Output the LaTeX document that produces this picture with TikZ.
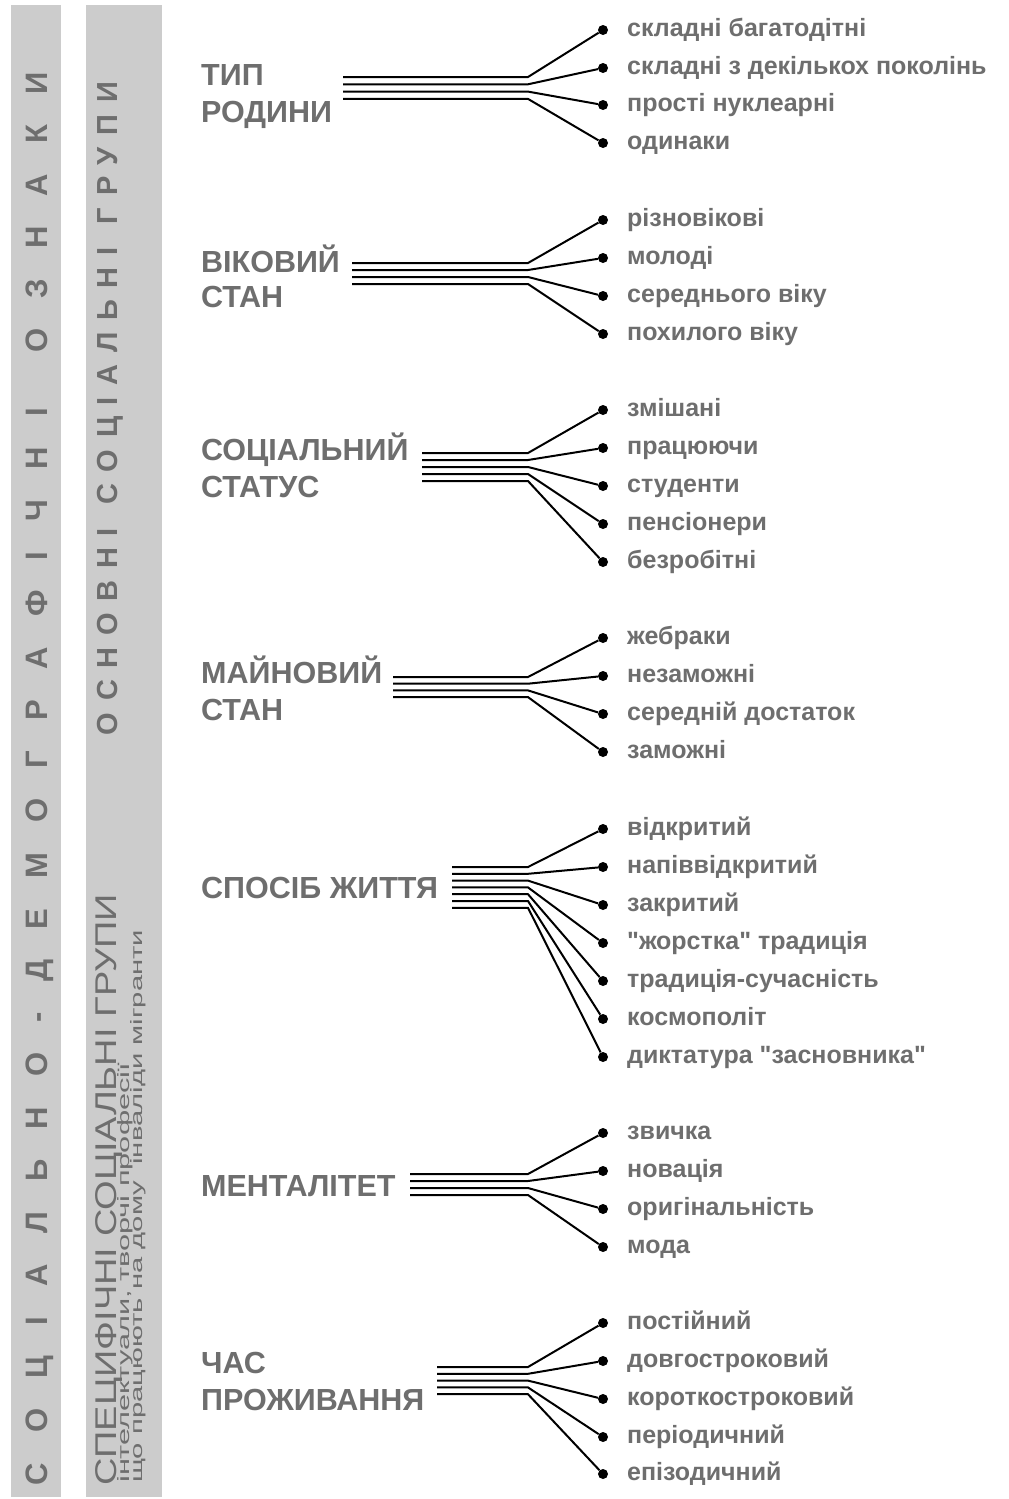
\documentclass[tikz,border=0pt]{standalone}
\usepackage{fontspec}
\setmainfont{Liberation Sans}
\usepackage{graphicx}
\definecolor{txtgray}{HTML}{6E6E6E}
\definecolor{bargray}{HTML}{CCCCCC}
\newcommand\qq{\XeTeXglyph\XeTeXcharglyph"22\relax}
% #1 name, #2 start x of bundle, #3 first line y, #4 line step, #5 list dot-y/text
\newcommand\fanbundle[5]{%
  \foreach \dy/\txt [count=\i] in {#5}{%
    \pgfmathsetmacro\ly{#3+(\i-1)*#4}
    \pgfmathsetmacro\ty{\dy+6.5}
    \coordinate (#1s\i) at (#2,\ly);
    \coordinate (#1b\i) at (528,\ly);
    \node[dot] (#1d\i) at (603,\dy) {};
    \node[item] (#1t\i) at (627,\ty) {\txt};
    \draw[link] (#1s\i) -- (#1b\i) -- (#1d\i);
  }%
}
\begin{document}
\begin{tikzpicture}[x=1pt,y=-1pt,
  head/.style={font=\bfseries\fontsize{30.5}{36}\selectfont, text=txtgray, inner sep=0pt, anchor=base west},
  item/.style={font=\bfseries\fontsize{25}{30}\selectfont, text=txtgray, inner sep=0pt, anchor=base west},
  dot/.style={circle, fill=black, inner sep=0pt, minimum size=10pt},
  link/.style={line width=2pt, black},
  bar/.style={fill=bargray},
  bartext/.style={text=txtgray, inner sep=0pt, rotate=90}]
\useasboundingbox (0,0) rectangle (1009,1499);
\fill[white] (0,0) rectangle (1009,1499);
% side bars
\path[bar] (11,5) rectangle (61,1497);
\path[bar] (86,5) rectangle (162,1497);
\node[bartext, font=\bfseries\fontsize{31}{36}\selectfont, anchor=base] (bar1t) at (47,778.5)
  {\hbox to 1413pt{С\hfil О\hfil Ц\hfil І\hfil А\hfil Л\hfil Ь\hfil Н\hfil О\hfil -\hfil Д\hfil Е\hfil М\hfil О\hfil Г\hfil Р\hfil А\hfil Ф\hfil І\hfil Ч\hfil Н\hfil І\hfil\hskip 25pt О\hfil З\hfil Н\hfil А\hfil К\hfil И}};
\node[bartext, font=\bfseries\fontsize{29}{34}\selectfont, anchor=base] (bar2t) at (117,408.5)
  {\hbox to 653pt{О\hfil С\hfil Н\hfil О\hfil В\hfil Н\hfil І\hfil\hskip 12pt С\hfil О\hfil Ц\hfil І\hfil А\hfil Л\hfil Ь\hfil Н\hfil І\hfil\hskip 12pt Г\hfil Р\hfil У\hfil П\hfil И}};
\node[bartext, font=\fontsize{30}{34}\selectfont, anchor=base west] (bar2b) at (116,1486)
  {\resizebox{592pt}{\height}{СПЕЦИФІЧНІ СОЦІАЛЬНІ ГРУПИ}};
\node[bartext, font=\fontsize{16.5}{18}\selectfont, anchor=base west] (bar2c) at (129,1483)
  {\resizebox{420pt}{\height}{інтелектуали, творчі професії}};
\node[bartext, font=\fontsize{16.5}{18}\selectfont, anchor=base west] (bar2d) at (142,1483)
  {\resizebox{553pt}{\height}{що працюють на дому~~інваліди мігранти}};
% headings
\node[head] (g1a) at (201,85) {ТИП};
\node[head] (g1b) at (201,122) {РОДИНИ};
\node[head] (g2a) at (201,272) {ВІКОВИЙ};
\node[head] (g2b) at (201,307) {СТАН};
\node[head] (g3a) at (201,460) {СОЦІАЛЬНИЙ};
\node[head] (g3b) at (201,497) {СТАТУС};
\node[head] (g4a) at (201,683) {МАЙНОВИЙ};
\node[head] (g4b) at (201,720) {СТАН};
\node[head] (g5a) at (201,898) {СПОСІБ ЖИТТЯ};
\node[head] (g6a) at (201,1196) {МЕНТАЛІТЕТ};
\node[head] (g7a) at (201,1373) {ЧАС};
\node[head] (g7b) at (201,1410) {ПРОЖИВАННЯ};
% bundles
\fanbundle{a}{343}{77}{7.3}{30/складні багатодітні, 68/складні з декількох поколінь, 105/прості нуклеарні, 143/одинаки}
\fanbundle{b}{352}{263}{7}{220/різновікові, 258/молоді, 296/середнього віку, 334/похилого віку}
\fanbundle{c}{422}{453}{7}{410/змішані, 448/працюючи, 486/студенти, 524/пенсіонери, 562/безробітні}
\fanbundle{d}{393}{677}{6.7}{638/жебраки, 676/незаможні, 714/середній достаток, 752/заможні}
\fanbundle{e}{452}{867}{6.8}{829/відкритий, 867/напіввідкритий, 905/закритий, 943/\qq жорстка\qq{} традиція, 981/традиція-сучасність, 1019/космополіт, 1057/диктатура \qq засновника\qq}
\fanbundle{f}{410}{1174}{7}{1133/звичка, 1171/новація, 1209/оригінальність, 1247/мода}
\fanbundle{g}{437}{1367}{6.8}{1323/постійний, 1361/довгостроковий, 1399/короткостроковий, 1437/періодичний, 1474/епізодичний}
\end{tikzpicture}
\end{document}
